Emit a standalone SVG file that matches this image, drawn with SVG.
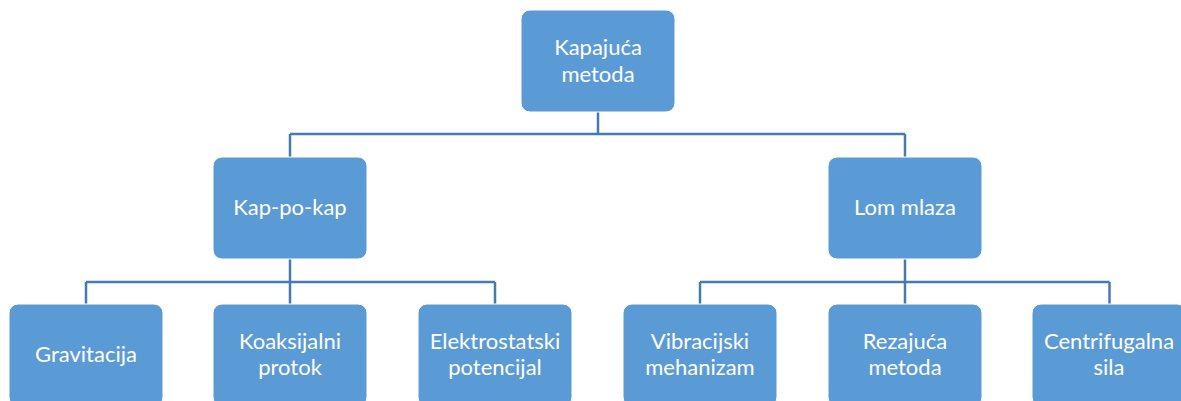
<svg xmlns="http://www.w3.org/2000/svg" width="1181" height="401" viewBox="0 0 1181 401">
<style>
.box{fill:#5B9BD5;stroke:#ffffff;stroke-width:1}
.t{font-family:Lato,"Open Sans","Liberation Sans",sans-serif;font-size:22px;fill:#ffffff;text-anchor:middle}
.c{fill:none;stroke:#467BB0;stroke-width:2.5}
</style>
<rect width="1181" height="401" fill="#ffffff"/>
<g id="connectors">
<path class="c" d="M598,112 V134 M290,134 H905 M290,134 V157 M905,134 V157"/>
<path class="c" d="M290,259 V304 M86,282 H495 M86,282 V304 M495,282 V304"/>
<path class="c" d="M905,259 V304 M700,282 H1109.5 M700,282 V304 M1109.5,282 V304"/>
</g>
<g id="n-root"><rect class="box" x="521" y="10" width="154" height="102" rx="9"/><text class="t" x="598" y="55">Kapajuća</text><text class="t" x="598" y="82">metoda</text></g>
<g id="n-kap"><rect class="box" x="213" y="157" width="154" height="102" rx="9"/><text class="t" x="290" y="215">Kap-po-kap</text></g>
<g id="n-lom"><rect class="box" x="828" y="157" width="154" height="102" rx="9"/><text class="t" x="905" y="215">Lom mlaza</text></g>
<g id="n-grav"><rect class="box" x="9" y="304" width="154" height="102" rx="9"/><text class="t" x="86" y="362">Gravitacija</text></g>
<g id="n-koa"><rect class="box" x="213" y="304" width="154" height="102" rx="9"/><text class="t" x="290" y="349">Koaksijalni</text><text class="t" x="290" y="375">protok</text></g>
<g id="n-ele"><rect class="box" x="418" y="304" width="154" height="102" rx="9"/><text class="t" x="495" y="349">Elektrostatski</text><text class="t" x="495" y="375">potencijal</text></g>
<g id="n-vib"><rect class="box" x="623" y="304" width="154" height="102" rx="9"/><text class="t" x="700" y="349">Vibracijski</text><text class="t" x="700" y="375">mehanizam</text></g>
<g id="n-rez"><rect class="box" x="828" y="304" width="154" height="102" rx="9"/><text class="t" x="905" y="349">Rezajuća</text><text class="t" x="905" y="375">metoda</text></g>
<g id="n-cen"><rect class="box" x="1032" y="304" width="154" height="102" rx="9"/><text class="t" x="1109" y="349">Centrifugalna</text><text class="t" x="1109" y="375">sila</text></g>
</svg>
